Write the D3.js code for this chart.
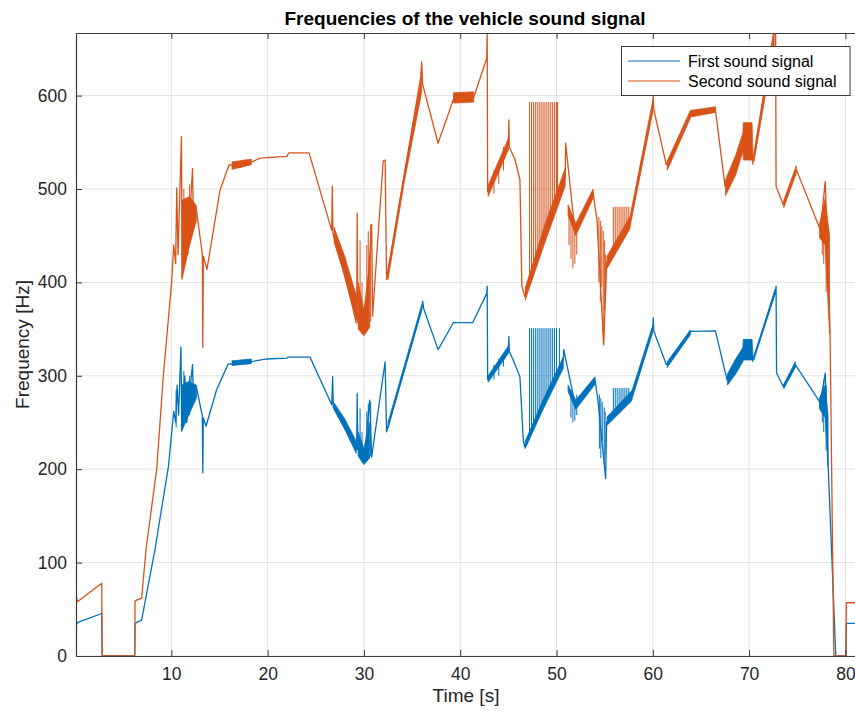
<!DOCTYPE html>
<html>
<head>
<meta charset="utf-8">
<script src="https://cdn.jsdelivr.net/npm/d3@7"></script>
<style>
  body { margin: 0; background: #fff; }
  text { font-family: "Liberation Sans", Arial, Helvetica, sans-serif; }
</style>
</head>
<body>
<svg id="chart" width="855" height="711"></svg>
<script>
// ---- data ---------------------------------------------------------------
const titleText = "Frequencies of the vehicle sound signal";
const xLabel = "Time [s]";
const yLabel = "Frequency [Hz]";
const seriesNames = ["First sound signal", "Second sound signal"];
const xTicks = [10, 20, 30, 40, 50, 60, 70, 80];
const yTicks = [0, 100, 200, 300, 400, 500, 600];

// [time s, frequency Hz]
const firstSignal = [
  [0.1, 33], [0.3, 36], [2.77, 45.5], [2.82, 0], [6.2, 0], [6.23, 35], [6.92, 38.6],
  [8.3, 114], [9.7, 203], [10.25, 262], [10.45, 250], [10.6, 290], [10.75, 258],
  [11.0, 331], [11.08, 242], [11.4, 300], [11.6, 250], [12.2, 312], [12.3, 272],
  [12.6, 288], [13.22, 257], [13.27, 196], [13.32, 255], [13.6, 246], [14.7, 285],
  [15.9, 312.5], [17.1, 313], [18.2, 315], [19.9, 318], [22.0, 319], [22.1, 320],
  [24.4, 320], [26.66, 269], [26.75, 299], [26.82, 266], [29.25, 221], [29.3, 281],
  [29.36, 222], [30.0, 206], [30.6, 274], [30.8, 213], [32.2, 315], [32.35, 240],
  [36.0, 372], [36.1, 380], [36.2, 372], [37.7, 328], [39.3, 357], [41.3, 357],
  [42.75, 388], [42.8, 396], [42.85, 296], [45.0, 328], [45.05, 342], [45.1, 326],
  [45.5, 317], [46.2, 299], [46.55, 231], [46.7, 224], [50.7, 317], [50.75, 328],
  [51.9, 271], [54.0, 296], [54.3, 274], [55.1, 190], [55.2, 250], [57.8, 278],
  [60.0, 351], [60.05, 362], [60.1, 348], [61.4, 312], [63.9, 347.5], [66.5, 348],
  [67.7, 296], [69.4, 330], [70.4, 317], [72.75, 390], [72.8, 396], [72.85, 303],
  [73.55, 288.5], [74.8, 312], [77.4, 271], [77.9, 303], [78.2, 206], [79.0, 0],
  [80.05, 0], [80.1, 35], [81.1, 35]
];

const secondSignal = [
  [0.1, 66], [0.25, 58], [2.77, 78], [2.82, 0], [6.2, 0], [6.23, 59], [6.92, 62],
  [7.37, 114], [8.48, 200], [9.17, 300], [10.03, 400], [10.25, 440], [10.45, 420],
  [10.56, 501], [10.7, 430], [11.05, 556], [11.12, 405], [11.5, 480], [11.7, 430],
  [12.2, 522], [12.3, 460], [12.6, 478], [13.22, 430], [13.27, 330], [13.32, 428],
  [13.7, 414], [15.06, 499], [16.0, 526], [17.1, 523], [19.2, 533], [22.0, 535],
  [22.2, 538.6], [24.3, 538.6], [26.65, 456], [26.72, 503], [26.78, 452],
  [29.25, 360], [29.3, 474], [29.36, 358], [30.1, 346], [30.8, 462], [30.9, 364],
  [32.0, 530], [32.2, 531], [32.35, 403], [35.9, 620], [36.0, 636], [36.1, 612],
  [37.7, 549], [39.3, 596], [41.4, 598], [42.75, 640], [42.8, 668], [42.85, 497],
  [45.0, 549], [45.05, 574], [45.1, 545], [45.7, 531], [46.2, 510], [46.4, 396],
  [46.7, 385], [50.9, 512], [50.95, 549], [51.9, 456], [53.8, 496], [54.2, 467],
  [54.9, 333], [55.2, 421], [57.6, 463], [60.0, 589], [60.05, 599], [60.1, 585],
  [61.4, 526], [63.9, 580], [66.5, 585], [67.5, 503], [69.4, 553], [70.4, 531],
  [72.75, 680], [72.8, 503], [73.55, 483], [74.9, 521], [77.4, 456], [77.9, 508],
  [78.1, 449], [78.4, 349], [78.8, 0], [80.05, 0], [80.1, 57], [81.1, 57]
];

// dense jitter envelopes: [time, low, high]
const firstBands = [
  [[11.05, 240, 290], [11.8, 258, 294], [12.6, 276, 290]],
  [[16.3, 311, 316], [18.3, 313, 318]],
  [[26.9, 264, 271], [28.0, 243, 254], [29.2, 217, 230]],
  [[29.4, 214, 240], [30.0, 205, 222], [30.6, 212, 250]],
  [[32.5, 244, 250], [36.0, 370, 376]],
  [[42.9, 293, 300], [45.0, 324, 332]],
  [[46.75, 222, 230], [48.6, 264, 274], [50.7, 308, 320]],
  [[51.2, 283, 290], [52.0, 264, 274], [54.0, 291, 299]],
  [[55.25, 247, 256], [57.8, 273, 284]],
  [[57.8, 274, 283], [60.0, 347, 354]],
  [[61.5, 309, 315], [63.9, 344, 349]],
  [[67.75, 290, 302], [68.6, 302, 318], [69.35, 315, 330], [69.4, 317, 339], [70.3, 317, 339], [70.4, 315, 321]],
  [[70.5, 317, 321], [72.7, 388, 393]],
  [[73.6, 286, 291], [74.8, 309, 315]],
  [[77.3, 265, 276], [77.9, 255, 290], [78.2, 203, 258]]
];

const secondBands = [
  [[11.1, 403, 488], [11.9, 440, 492], [12.6, 466, 482]],
  [[16.3, 521, 529], [18.3, 526, 532]],
  [[26.9, 443, 459], [28.0, 408, 428], [29.2, 356, 386]],
  [[29.4, 350, 400], [30.0, 343, 370], [30.6, 352, 420]],
  [[32.5, 403, 414], [34.2, 508, 517], [36.0, 604, 620]],
  [[39.3, 592, 603], [41.4, 593, 604]],
  [[42.9, 492, 504], [45.0, 542, 554]],
  [[46.75, 381, 394], [48.8, 443, 462], [50.9, 503, 522]],
  [[51.2, 472, 483], [52.0, 450, 463], [53.8, 490, 500]],
  [[55.25, 415, 428], [57.6, 457, 470]],
  [[57.6, 458, 469], [60.0, 583, 595]],
  [[61.5, 520, 530], [63.9, 576, 584]],
  [[63.9, 577, 584], [66.5, 582, 588]],
  [[67.55, 493, 510], [68.6, 515, 536], [69.35, 540, 560], [69.4, 531, 571], [70.3, 531, 571], [70.4, 526, 536]],
  [[70.5, 529, 536], [72.6, 655, 668]],
  [[73.6, 480, 488], [74.9, 517, 525]],
  [[77.3, 448, 462], [77.9, 440, 490], [78.35, 345, 450]]
];

// isolated vertical excursions: [time, low, high]
const firstSpikes = [
  [10.5, 245, 285], [11.3, 250, 305], [11.9, 258, 300],
  [29.6, 215, 265], [29.8, 208, 240], [30.3, 210, 262], [30.45, 212, 270], [30.7, 214, 272],
  [43.5, 296, 312], [44.0, 300, 318], [44.5, 310, 324],
  [47.2, 236, 351], [47.4, 240, 351], [47.6, 245, 351], [47.8, 250, 351], [48.0, 254, 351],
  [48.2, 259, 351], [48.4, 264, 351], [48.6, 268, 351], [48.8, 273, 351], [49.0, 277, 351],
  [49.2, 282, 351], [49.4, 287, 351], [49.6, 291, 351], [49.8, 296, 351], [50.0, 301, 351],
  [50.3, 308, 351],
  [51.5, 255, 285], [51.7, 250, 280], [51.9, 252, 276], [52.1, 258, 280],
  [54.45, 222, 280], [54.6, 212, 276], [54.75, 230, 272], [54.95, 205, 266], [55.05, 215, 262],
  [55.9, 257, 287], [56.1, 259, 287], [56.3, 261, 287], [56.5, 263, 287], [56.7, 266, 287],
  [56.9, 268, 287], [57.1, 270, 287], [57.3, 272, 287], [57.5, 274, 287],
  [77.6, 250, 285], [77.75, 240, 295], [78.0, 220, 290]
];

const secondSpikes = [
  [11.3, 420, 500], [11.9, 440, 505],
  [29.6, 350, 445], [29.8, 345, 400], [30.3, 350, 440], [30.45, 352, 455], [30.7, 358, 462],
  [43.5, 495, 520], [44.0, 505, 530], [44.5, 520, 545],
  [47.2, 400, 593], [47.4, 406, 593], [47.6, 412, 593], [47.8, 418, 593], [48.0, 424, 593],
  [48.2, 430, 593], [48.4, 436, 593], [48.6, 442, 593], [48.8, 448, 593], [49.0, 454, 593],
  [49.2, 460, 593], [49.4, 466, 593], [49.6, 472, 593], [49.8, 478, 593], [50.0, 484, 593],
  [50.1, 487, 593],
  [51.3, 440, 480], [51.5, 425, 470], [51.7, 415, 465], [51.9, 420, 460], [52.1, 430, 462],
  [54.4, 400, 470], [54.55, 380, 466], [54.7, 395, 460], [54.85, 345, 455], [55.0, 370, 445], [55.1, 390, 430],
  [55.9, 433, 481], [56.1, 437, 481], [56.3, 440, 481], [56.5, 444, 481], [56.7, 447, 481],
  [56.9, 451, 481], [57.1, 454, 481], [57.3, 458, 481], [57.5, 461, 481],
  [77.6, 430, 470], [77.75, 420, 480], [78.0, 390, 470]
];

// ---- layout -------------------------------------------------------------
const W = 855, H = 711;
const plot = { left: 76, top: 33, right: 856, bottom: 656 };
const colors = ["#0072BD", "#D95319"];
const axisColor = "#3a3a3a";
const gridColor = "#e2e2e2";

const svg = d3.select("#chart");
svg.append("rect").attr("width", W).attr("height", H).attr("fill", "#fff");

const x = d3.scaleLinear().domain([0.1, 81.1]).range([plot.left, plot.right]);
const y = d3.scaleLinear().domain([0, 667]).range([plot.bottom, plot.top]);

// grid
const grid = svg.append("g");
grid.selectAll("line.gx").data(xTicks).join("line")
  .attr("x1", d => x(d)).attr("x2", d => x(d))
  .attr("y1", plot.top).attr("y2", plot.bottom)
  .attr("stroke", gridColor).attr("stroke-width", 1);
grid.selectAll("line.gy").data(yTicks).join("line")
  .attr("x1", plot.left).attr("x2", plot.right)
  .attr("y1", d => y(d)).attr("y2", d => y(d))
  .attr("stroke", gridColor).attr("stroke-width", 1);

// clip
svg.append("clipPath").attr("id", "plotClip").append("rect")
  .attr("x", plot.left).attr("y", plot.top)
  .attr("width", plot.right - plot.left).attr("height", plot.bottom - plot.top);

const data = svg.append("g").attr("clip-path", "url(#plotClip)");

const line = d3.line().x(d => x(d[0])).y(d => y(d[1]));
const area = d3.area().x(d => x(d[0])).y0(d => y(d[1])).y1(d => y(d[2]));

function drawSeries(points, bands, spikes, color) {
  const g = data.append("g");
  g.selectAll("path.band").data(bands).join("path")
    .attr("d", area).attr("fill", color).attr("stroke", color).attr("stroke-width", 0.8);
  g.selectAll("line.spike").data(spikes).join("line")
    .attr("x1", d => x(d[0])).attr("x2", d => x(d[0]))
    .attr("y1", d => y(d[1])).attr("y2", d => y(d[2]))
    .attr("stroke", color).attr("stroke-width", 1);
  g.append("path").datum(points).attr("d", line)
    .attr("fill", "none").attr("stroke", color)
    .attr("stroke-width", 1.3).attr("stroke-linejoin", "round");
}
drawSeries(firstSignal, firstBands, firstSpikes, colors[0]);
drawSeries(secondSignal, secondBands, secondSpikes, colors[1]);

// axes (MATLAB-style inward ticks, box on)
const fontSize = 17.5;
const xAxis = svg.append("g").attr("transform", `translate(0,${plot.bottom})`)
  .call(d3.axisBottom(x).tickValues(xTicks).tickSize(-6).tickSizeOuter(0).tickPadding(12));
const yAxis = svg.append("g").attr("transform", `translate(${plot.left},0)`)
  .call(d3.axisLeft(y).tickValues(yTicks).tickSize(-6).tickSizeOuter(0).tickPadding(9));
const topAxis = svg.append("g").attr("transform", `translate(0,${plot.top})`)
  .call(d3.axisTop(x).tickValues(xTicks).tickSize(-6).tickSizeOuter(0).tickFormat(""));
[xAxis, yAxis, topAxis].forEach(a => {
  a.selectAll("path.domain").attr("stroke", axisColor).attr("stroke-width", 1.2);
  a.selectAll(".tick line").attr("stroke", axisColor).attr("stroke-width", 1);
  a.selectAll(".tick text").attr("fill", "#262626")
    .style("font-size", fontSize + "px")
    .style("font-family", '"Liberation Sans", Arial, Helvetica, sans-serif');
});

// title and axis labels
svg.append("text").attr("x", (plot.left + plot.right) / 2 - 1).attr("y", 25)
  .attr("text-anchor", "middle").attr("font-weight", "bold")
  .attr("font-size", 19).attr("fill", "#000").text(titleText);
svg.append("text").attr("x", (plot.left + plot.right) / 2).attr("y", 702)
  .attr("text-anchor", "middle").attr("font-size", 19).attr("fill", "#262626").text(xLabel);
svg.append("text").attr("transform", `translate(29,${(plot.top + plot.bottom) / 2}) rotate(-90)`)
  .attr("text-anchor", "middle").attr("font-size", 19).attr("fill", "#262626").text(yLabel);

// legend
const legend = svg.append("g");
legend.append("rect").attr("x", 621.5).attr("y", 46.5).attr("width", 228.5).attr("height", 49)
  .attr("fill", "#fff").attr("stroke", axisColor).attr("stroke-width", 1);
seriesNames.forEach((name, i) => {
  const ly = 61 + i * 20;
  legend.append("line").attr("x1", 628).attr("x2", 680).attr("y1", ly).attr("y2", ly)
    .attr("stroke", colors[i]).attr("stroke-width", 1.2);
  legend.append("text").attr("x", 688).attr("y", ly + 5.5)
    .attr("font-size", 16).attr("fill", "#000").text(name);
});
</script>
</body>
</html>
